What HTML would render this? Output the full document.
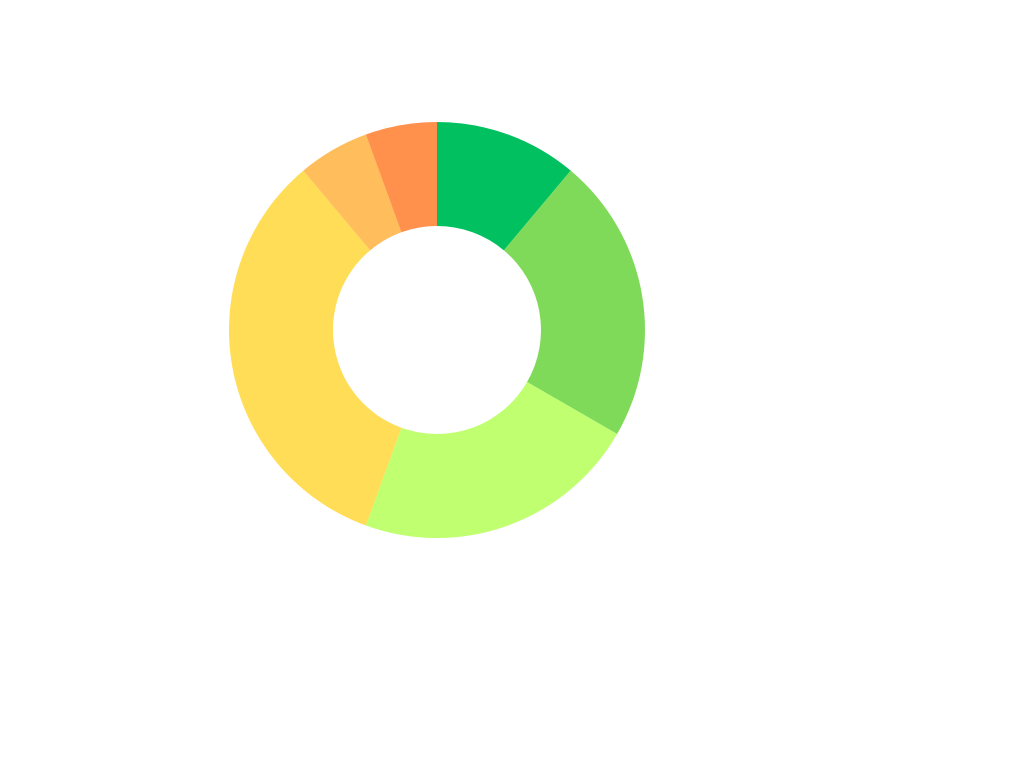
<!DOCTYPE html>
<html>
<head>
<meta charset="utf-8">
<style>
  html, body { margin: 0; padding: 0; background: #fff; width: 1024px; height: 768px; overflow: hidden; }
  svg { display: block; }
</style>
</head>
<body>
<svg id="chart" width="1024" height="768" viewBox="0 0 1024 768" xmlns="http://www.w3.org/2000/svg"></svg>
<script>
const categories = ["A", "B", "C", "D", "E", "F"];
const values = [2, 4, 4, 6, 1, 1];
const colors = ["#00c060", "#80da5a", "#c0ff70", "#ffdd57", "#ffbd5b", "#ff914d"];

const cx = 437, cy = 330, rOuter = 208, rInner = 104;
const svg = document.getElementById('chart');
const NS = 'http://www.w3.org/2000/svg';
const total = values.reduce((a, b) => a + b, 0);

function pt(r, a) {
  return [cx + r * Math.sin(a), cy - r * Math.cos(a)];
}

let start = 0;
values.forEach((v, i) => {
  const sweep = v / total * Math.PI * 2;
  const end = start + sweep;
  const large = sweep > Math.PI ? 1 : 0;
  const [x1, y1] = pt(rOuter, start);
  const [x2, y2] = pt(rOuter, end);
  const [x3, y3] = pt(rInner, end);
  const [x4, y4] = pt(rInner, start);
  const d = `M${x1},${y1} A${rOuter},${rOuter} 0 ${large} 1 ${x2},${y2} L${x3},${y3} A${rInner},${rInner} 0 ${large} 0 ${x4},${y4} Z`;
  const p = document.createElementNS(NS, 'path');
  p.setAttribute('d', d);
  p.setAttribute('fill', colors[i]);
  
  
  svg.appendChild(p);
  start = end;
});
</script>
</body>
</html>
